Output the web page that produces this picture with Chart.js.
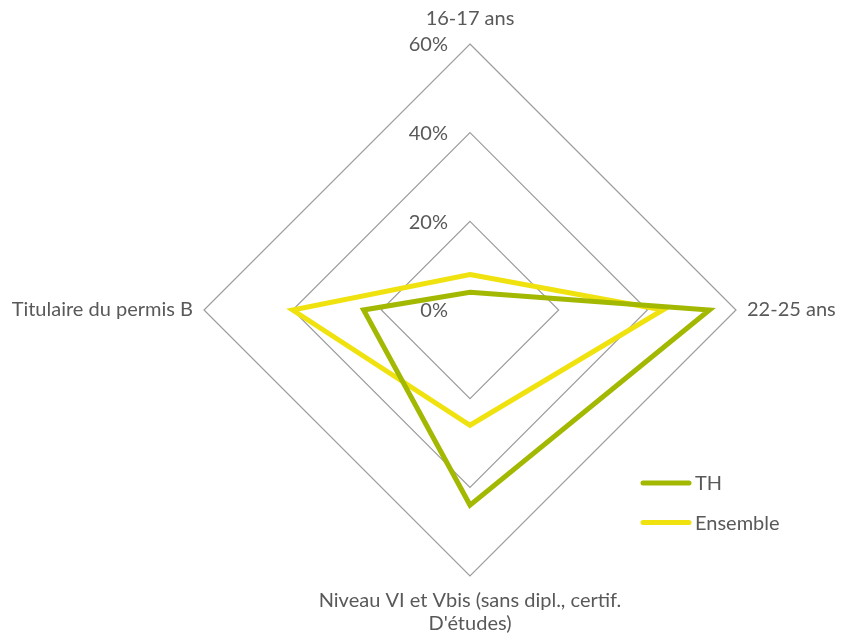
<!DOCTYPE html>
<html>
<head>
<meta charset="utf-8">
<script src="https://cdn.jsdelivr.net/npm/chart.js@4/dist/chart.umd.min.js"></script>
<style>
  html, body { margin: 0; padding: 0; background: #ffffff; }
  #wrap { width: 843px; height: 637px; }
</style>
</head>
<body>
<div id="wrap"><canvas id="c" width="843" height="637"></canvas></div>
<script>
// ---- data ----
const categories = ['16-17 ans', '22-25 ans', ['Niveau VI et Vbis (sans dipl., certif.', "D'études)"], 'Titulaire du permis B'];
const seriesNames = ['TH', 'Ensemble'];
const thValues = [4, 54, 44, 24];
const ensembleValues = [8, 43.5, 26, 40];
const tickValues = [0, 20, 40, 60];
const tickLabels = ['0%', '20%', '40%', '60%'];

// ---- styles ----
const FONT = '20px Lato, "Open Sans", sans-serif';
const TEXT_COLOR = '#595959';
const TH_COLOR = '#A3B800';
const ENS_COLOR = '#F0E20E';

const labelPlugin = {
  id: 'customLabels',
  afterDraw(chart) {
    const s = chart.scales.r;
    const ctx = chart.ctx;
    const R = s.drawingArea;
    ctx.save();
    ctx.font = FONT;
    ctx.fillStyle = TEXT_COLOR;

    // tick labels, right-aligned left of the vertical axis
    ctx.textAlign = 'right';
    ctx.textBaseline = 'middle';
    tickValues.forEach((v, i) => {
      const d = s.getDistanceFromCenterForValue(v);
      ctx.fillText(tickLabels[i], s.xCenter - 22, s.yCenter - d + 1);
    });

    // point labels
    categories.forEach((lab, i) => {
      const lines = Array.isArray(lab) ? lab : [lab];
      let p;
      if (i === 0) {
        p = s.getPointPosition(0, R + 25);
        ctx.textAlign = 'center';
      } else if (i === 1) {
        p = s.getPointPosition(1, R + 11);
        ctx.textAlign = 'left';
      } else if (i === 2) {
        p = s.getPointPosition(2, R + 25);
        ctx.textAlign = 'center';
      } else {
        p = s.getPointPosition(3, R + 11);
        ctx.textAlign = 'right';
      }
      lines.forEach((ln, k) => ctx.fillText(ln, p.x, p.y + k * 23));
    });

    // legend
    const items = chart.data.datasets;
    ctx.textAlign = 'left';
    ctx.lineCap = 'round';
    items.forEach((ds, k) => {
      const y = 483 + k * 39.5;
      ctx.strokeStyle = ds.borderColor;
      ctx.lineWidth = 5;
      ctx.beginPath();
      ctx.moveTo(643, y);
      ctx.lineTo(689, y);
      ctx.stroke();
      ctx.fillStyle = TEXT_COLOR;
      ctx.fillText(ds.label, 695, y + 1);
    });
    ctx.restore();
  }
};

new Chart(document.getElementById('c'), {
  type: 'radar',
  data: {
    labels: categories,
    datasets: [
      { label: seriesNames[0], data: thValues, borderColor: TH_COLOR, backgroundColor: 'transparent',
        borderWidth: 5, pointRadius: 0, pointHoverRadius: 0, fill: false, borderJoinStyle: 'miter', tension: 0 },
      { label: seriesNames[1], data: ensembleValues, borderColor: ENS_COLOR, backgroundColor: 'transparent',
        borderWidth: 5, pointRadius: 0, pointHoverRadius: 0, fill: false, borderJoinStyle: 'miter', tension: 0 }
    ]
  },
  options: {
    responsive: false,
    animation: false,
    layout: { padding: { left: 204, right: 107, top: 44, bottom: 61 } },
    plugins: { legend: { display: false }, tooltip: { enabled: false } },
    scales: {
      r: {
        min: 0,
        max: 60,
        ticks: { stepSize: 20, display: false },
        grid: { color: '#9C9C9C', lineWidth: 1.2 },
        angleLines: { display: false },
        pointLabels: { display: false }
      }
    }
  },
  plugins: [labelPlugin]
});
</script>
</body>
</html>
